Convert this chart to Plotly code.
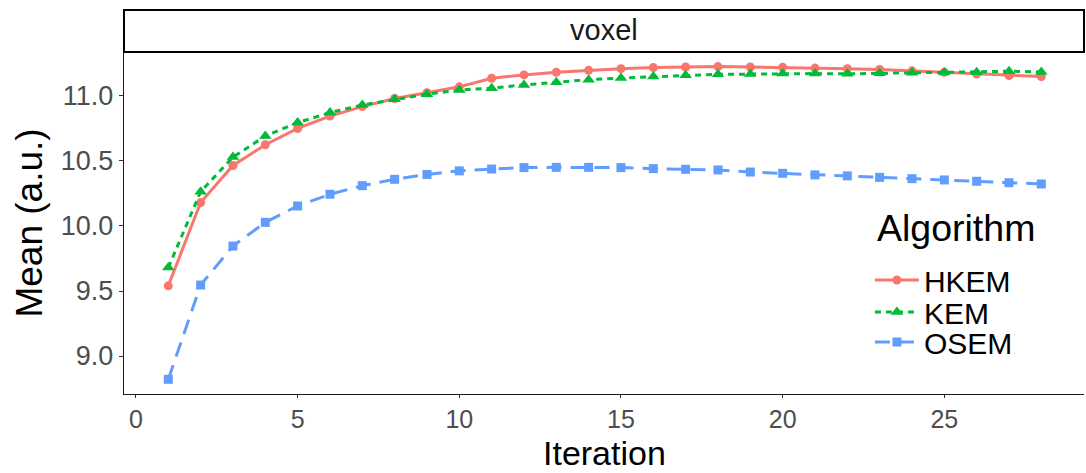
import plotly.graph_objects as go

# Mean value per iteration for each reconstruction algorithm
iterations = [1, 2, 3, 4, 5, 6, 7, 8, 9, 10, 11, 12, 13, 14,
              15, 16, 17, 18, 19, 20, 21, 22, 23, 24, 25, 26, 27, 28]

hkem = [9.54, 10.18, 10.465, 10.625, 10.75, 10.845, 10.918, 10.98, 11.025, 11.07,
        11.136, 11.162, 11.182, 11.197, 11.21, 11.218, 11.223, 11.226, 11.223, 11.22,
        11.214, 11.21, 11.204, 11.193, 11.182, 11.169, 11.156, 11.149]

kem = [9.68, 10.264, 10.53, 10.692, 10.795, 10.872, 10.93, 10.974, 11.013, 11.046,
       11.06, 11.085, 11.105, 11.125, 11.138, 11.149, 11.159, 11.166, 11.168, 11.172,
       11.172, 11.17, 11.174, 11.178, 11.18, 11.182, 11.19, 11.185]

osem = [8.821, 9.546, 9.846, 10.028, 10.154, 10.244, 10.31, 10.359, 10.396, 10.424,
        10.438, 10.449, 10.451, 10.451, 10.449, 10.441, 10.436, 10.431, 10.415, 10.405,
        10.393, 10.385, 10.374, 10.364, 10.354, 10.344, 10.333, 10.323]

x_ticks = [0, 5, 10, 15, 20, 25]
y_ticks = [9.0, 9.5, 10.0, 10.5, 11.0]
y_tick_text = ["9.0", "9.5", "10.0", "10.5", "11.0"]

FONT = "Liberation Sans, Arial, sans-serif"

series = [
    ("HKEM", hkem, "#F8766D", "circle", 9, "solid", "legend"),
    ("KEM", kem, "#00BA38", "triangle-up", 11, "6px,5px", "legend2"),
    ("OSEM", osem, "#619CFF", "square", 9, "15px,9px", "legend3"),
]

fig = go.Figure()
for name, vals, color, symbol, msize, dash, leg in series:
    fig.add_trace(go.Scatter(
        x=iterations, y=vals, name=name, mode="lines+markers",
        line=dict(color=color, width=3, dash=dash),
        marker=dict(color=color, symbol=symbol, size=msize),
        legend=leg, showlegend=True,
    ))

plot_top, plot_bottom = 52, 394
plot_h = plot_bottom - plot_top
fig_h = 473


def ypaper(px):
    return (plot_bottom - px) / plot_h


leg_common = dict(
    xanchor="left", yanchor="middle", bgcolor="rgba(0,0,0,0)",
    borderwidth=0, itemwidth=44,
    font=dict(family=FONT, size=30, color="black"),
)

fig.update_layout(
    width=1086, height=fig_h,
    margin=dict(l=124, r=2, t=plot_top, b=fig_h - plot_bottom),
    paper_bgcolor="white", plot_bgcolor="white",
    font=dict(family=FONT, color="black"),
    showlegend=True,
    legend=dict(x=0.777, y=ypaper(280), **leg_common),
    legend2=dict(x=0.777, y=ypaper(312), **leg_common),
    legend3=dict(x=0.777, y=ypaper(342), **leg_common),
    xaxis=dict(
        range=[-0.37, 29.32], tickvals=x_ticks,
        showline=True, linecolor="#1a1a1a", linewidth=1.4,
        ticks="outside", ticklen=3, tickwidth=1.2, tickcolor="#333333",
        tickfont=dict(family=FONT, size=25, color="#4D4D4D"),
        showgrid=False, zeroline=False,
    ),
    yaxis=dict(
        range=[8.708, 11.338], tickvals=y_ticks, ticktext=y_tick_text,
        showline=True, linecolor="#1a1a1a", linewidth=1.4,
        ticks="outside", ticklen=4, tickwidth=1.2, tickcolor="#333333",
        tickfont=dict(family=FONT, size=27, color="#4D4D4D"),
        showgrid=False, zeroline=False,
        title=dict(text="Mean (a.u.)", font=dict(family=FONT, size=37, color="black"), standoff=6),
    ),
    shapes=[dict(
        type="rect", xref="paper", yref="paper",
        x0=0, x1=1, y0=1.0, y1=ypaper(10),
        line=dict(color="black", width=2), fillcolor="white", layer="above",
    )],
    annotations=[
        dict(text="voxel", xref="paper", yref="paper", x=0.5, y=ypaper(30.5),
             xanchor="center", yanchor="middle", showarrow=False,
             font=dict(family=FONT, size=29, color="#1a1a1a")),
        dict(text="Algorithm", xref="paper", yref="paper",
             x=(875 - 124) / 960, y=ypaper(228),
             xanchor="left", yanchor="middle", showarrow=False,
             font=dict(family=FONT, size=37.5, color="black")),
        # x-axis title, anchored to the bottom edge of the figure
        dict(text="Iteration", xref="paper", yref="paper",
             x=0.5, y=ypaper(fig_h), xanchor="center", yanchor="bottom",
             showarrow=False, borderpad=0,
             font=dict(family=FONT, size=34, color="black")),
    ],
)

fig.write_html("out.html")
